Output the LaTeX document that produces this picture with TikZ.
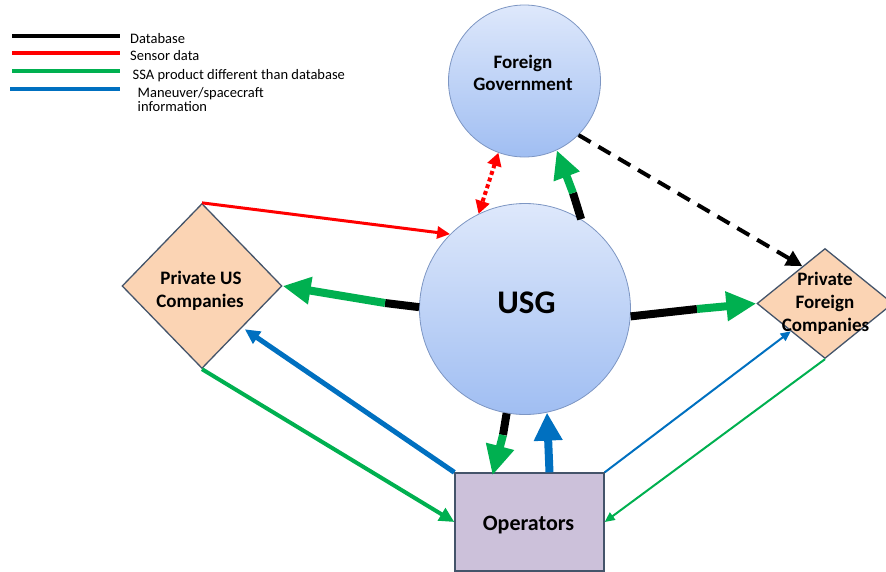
\documentclass[tikz,border=0pt]{standalone}
\usepackage{fontspec}
\setmainfont{Carlito}
\usetikzlibrary{arrows.meta,shapes.geometric,calc}
\definecolor{cgreen}{RGB}{0,176,80}
\definecolor{cred}{RGB}{255,0,0}
\definecolor{cblue}{RGB}{0,112,192}
\definecolor{ctop}{RGB}{222,232,251}
\definecolor{cbot}{RGB}{160,190,242}
\definecolor{cborder}{RGB}{125,150,195}
\definecolor{peach}{RGB}{251,212,180}
\definecolor{slate}{RGB}{68,84,106}
\definecolor{lav}{RGB}{204,193,218}
\begin{document}
\begin{tikzpicture}[x=1pt,y=-1pt,
  circ/.style={circle, draw=cborder, line width=0.8pt, top color=ctop, bottom color=cbot, inner sep=0pt},
  dia/.style={diamond, draw=slate, line width=1.3pt, fill=peach, inner sep=0pt},
  opbox/.style={rectangle, draw=slate, line width=1.3pt, fill=lav, inner sep=0pt},
  lbl/.style={font=\fontsize{19}{23}\selectfont\bfseries, anchor=base, inner sep=0pt},
  leg/.style={font=\fontsize{14.5}{16}\selectfont, anchor=base west, inner sep=0pt},
  legline/.style={line width=4pt},
  fat/.style={line width=8pt},
  bigtip/.style={-{Triangle[length=28pt,width=26pt]}},
  midtip/.style={-{Triangle[length=15pt,width=14pt]}},
  smalltip/.style={-{Triangle[length=10pt,width=9pt]}}
]
\useasboundingbox (0,0) rectangle (886,571);

% legend
\coordinate (la1) at (12,36);  \coordinate (lb1) at (120,36);
\coordinate (la2) at (12,53);  \coordinate (lb2) at (120,53);
\coordinate (la3) at (12,71);  \coordinate (lb3) at (120,71);
\coordinate (la4) at (10,89);  \coordinate (lb4) at (120,89);
\draw[legline, black] (la1) -- (lb1);
\draw[legline, cred] (la2) -- (lb2);
\draw[legline, cgreen] (la3) -- (lb3);
\draw[legline, cblue] (la4) -- (lb4);
\node[leg] (l1) at (130,43) {Database};
\node[leg] (l2) at (130,60.5) {Sensor data};
\node[leg] (l3) at (132.5,79) {SSA product different than database};
\node[leg] (l4) at (137.5,97) {Maneuver/spacecraft};
\node[leg] (l5) at (137.5,111) {information};

% main nodes
\node[circ, minimum size=152pt] (fg) at (524.5,81) {};
\node[circ, minimum size=211pt] (usg) at (525,309) {};
\node[dia, minimum width=160pt, minimum height=165pt] (pus) at (202,286) {};
\node[dia, minimum width=136pt, minimum height=110pt] (pfc) at (825,303.5) {};
\node[opbox, minimum width=149pt, minimum height=98pt] (op) at (529.5,522) {};

% labels
\node[lbl] (t1) at (523,68) {Foreign};
\node[lbl] (t2) at (523,90) {Government};
\node[lbl, font=\fontsize{33}{36}\selectfont\bfseries] (t3) at (526.5,313) {USG};
\node[lbl] (t4) at (201,284) {Private US};
\node[lbl] (t5) at (200,307) {Companies};
\node[lbl] (t6) at (825,285) {Private};
\node[lbl] (t7) at (825,308) {Foreign};
\node[lbl] (t8) at (825.5,331) {Companies};
\node[lbl, font=\fontsize{22}{25}\selectfont\bfseries] (t9) at (528.5,530) {Operators};

% mid points of two-colour arrows
\coordinate (m1) at (573,193);
\coordinate (m2) at (385,303);
\coordinate (m3) at (697,309);
\coordinate (m4) at (503,435);

% USG -> Foreign Government
\draw[fat, black] (usg.58) -- (m1);
\draw[fat, cgreen, bigtip] (m1) -- (fg.-65);
% USG -> Private US
\draw[fat, black] (usg.179) -- (m2);
\draw[fat, cgreen, bigtip] (m2) -- (pus.east);
% USG -> Private Foreign
\draw[fat, black] (usg.-4) -- (m3);
\draw[fat, cgreen, -{Triangle[length=30pt,width=28pt]}] (m3) -- (pfc.west);
% USG -> Operators
\draw[fat, black] (usg.-100) -- (m4);
\draw[fat, cgreen, -{Triangle[length=30pt,width=27pt]}] (m4) -- ([xshift=-37pt,yshift=-3pt]op.north);
% Operators -> USG
\draw[fat, cblue, -{Triangle[length=28pt,width=27pt]}] ([xshift=20pt]op.north) -- (usg.-78);

% Foreign Government <-> USG (sensor, dotted)
\draw[line width=4pt, cred, dash pattern=on 4pt off 3pt,
  {Triangle[length=13pt,width=14pt]}-{Triangle[length=13pt,width=14pt]}] (fg.250) -- (usg.116);
% Private US -> USG (sensor)
\draw[line width=3pt, cred, -{Triangle[length=13pt,width=12pt]}] (pus.north) -- (usg.135);
% Foreign Government -> Private Foreign (database, dashed)
\draw[line width=4pt, black, dash pattern=on 14pt off 9pt, -{Triangle[length=16pt,width=16pt]}]
  (fg.-45) -- ($(pfc.north)!0.33!(pfc.west)$);

% Operators <-> Private US
\draw[line width=5pt, cblue, midtip, shorten >=3pt] (op.north west) -- ($(pus.east)!0.5!(pus.south)$);
\draw[line width=4pt, cgreen, midtip] (pus.south) -- (op.west);
% Operators <-> Private Foreign
\draw[line width=2pt, cblue, smalltip] (op.north east) -- ($(pfc.west)!0.5!(pfc.south)$);
\draw[line width=2pt, cgreen, smalltip] (pfc.south) -- (op.east);
\end{tikzpicture}
\end{document}
